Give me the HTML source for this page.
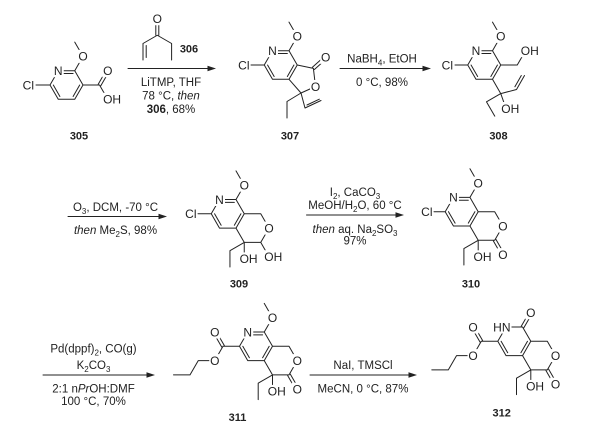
<!DOCTYPE html>
<html>
<head>
<meta charset="utf-8">
<style>
html,body{margin:0;padding:0;background:#fff;}
svg{display:block;}
.a{font-family:"Liberation Sans",Arial,sans-serif;font-size:12px;fill:#222;text-anchor:middle;}
.as{font-family:"Liberation Sans",Arial,sans-serif;font-size:12px;fill:#222;text-anchor:start;}
.ae{font-family:"Liberation Sans",Arial,sans-serif;font-size:12px;fill:#222;text-anchor:end;}
.r{font-family:"Liberation Sans",Arial,sans-serif;font-size:11.5px;fill:#222;text-anchor:middle;}
.n{font-family:"Liberation Sans",Arial,sans-serif;font-size:11px;font-weight:bold;fill:#222;text-anchor:middle;}
.bd{stroke:#222;stroke-width:1;fill:none;stroke-linecap:round;stroke-linejoin:round;}
.m{fill:#fff;}
</style>
</head>
<body>
<svg width="600" height="434" viewBox="0 0 600 434" xmlns="http://www.w3.org/2000/svg">

<!-- ===== 305 ===== -->
<path class="bd" d="M50 85 L58.25 70.7 L74.75 70.7 L83 85 L74.75 99.3 L58.25 99.3 Z
M59.9 73.56 L73.1 73.56 M79.7 85 L73.1 96.44 M59.9 96.44 L53.3 85
M36 85 L50 85
M74.75 70.7 L83 56.4 L74.75 42.1
M83 85 L99.5 85 L107.75 99.3
M100.8 85.75 L109.05 71.45 M98.2 84.25 L106.45 69.95"/>
<rect class="m" x="52.75" y="64.2" width="11" height="13"/>
<rect class="m" x="77.5" y="49.9" width="11" height="13"/>
<rect class="m" x="102.25" y="64.2" width="11" height="13"/>
<rect class="m" x="102.25" y="92.8" width="20" height="13"/>
<text class="a" x="58.25" y="75">N</text>
<text class="a" x="83" y="60.7">O</text>
<text class="a" x="107.75" y="75">O</text>
<text class="as" x="103.1" y="103.6">OH</text>
<text class="ae" x="34" y="89.3">Cl</text>
<text class="n" x="79" y="139.5">305</text>

<!-- ===== 306 ===== -->
<path class="bd" d="M143 60 L143 43.5 L157.3 35.25 L171.6 43.5 L171.6 60
M146.2 57.5 L146.2 45.5
M155.8 35.25 L155.8 18.75 M158.8 35.25 L158.8 18.75"/>
<rect class="m" x="151.8" y="12.25" width="11" height="13"/>
<text class="a" x="157.3" y="23">O</text>
<text class="n" x="189" y="52.5">306</text>

<!-- arrow 1 -->
<path class="bd" d="M128 68.5 L209 68.5"/>
<polygon points="216,68.5 207.5,65.7 207.5,71.3" fill="#222"/>
<text class="r" x="171" y="86">LiTMP, THF</text>
<text class="r" x="171" y="99.5">78 °C, <tspan font-style="italic">then</tspan></text>
<text class="r" x="171" y="113"><tspan font-weight="bold">306</tspan>, 68%</text>

<!-- ===== 307 ===== -->
<path class="bd" d="M264.25 65 L272.5 50.7 L289 50.7 L297.25 65 L289 79.3 L272.5 79.3 Z
M274.15 53.56 L287.35 53.56 M293.95 65 L287.35 76.44 M274.15 76.44 L267.55 65
M251 65 L264.25 65
M289 50.7 L297.25 36.4 L289 22.1
M297.25 65 L313.4 68.4 L315.5 86.5 L301 93 L289 79.3
M314.4 69.5 L326.7 58.5 M312.4 67.3 L324.7 56.3
M301 93 L287 101.5 L287 118
M301 93 L305 108 L321 100.5 M307 105 L319.3 99.2"/>
<rect class="m" x="267" y="44.2" width="11" height="13"/>
<rect class="m" x="291.75" y="29.9" width="11" height="13"/>
<rect class="m" x="320.2" y="50.9" width="11" height="13"/>
<rect class="m" x="310" y="80" width="11" height="13"/>
<text class="a" x="272.5" y="55">N</text>
<text class="a" x="297.25" y="40.7">O</text>
<text class="a" x="325.7" y="61.7">O</text>
<text class="a" x="315.5" y="90.8">O</text>
<text class="ae" x="249.5" y="69.3">Cl</text>
<text class="n" x="290" y="139.5">307</text>

<!-- arrow 2 -->
<path class="bd" d="M340 68.5 L424 68.5"/>
<polygon points="431,68.5 422.5,65.7 422.5,71.3" fill="#222"/>
<text class="r" x="382" y="62.4">NaBH<tspan font-size="8" dy="3">4</tspan><tspan dy="-3">, EtOH</tspan></text>
<text class="r" x="382" y="85.8">0 °C, 98%</text>

<!-- ===== 308 ===== -->
<path class="bd" d="M467.75 65 L476 50.7 L492.5 50.7 L500.75 65 L492.5 79.3 L476 79.3 Z
M477.65 53.56 L490.85 53.56 M497.45 65 L490.85 76.44 M477.65 76.44 L471.05 65
M455 65 L467.75 65
M492.5 50.7 L500.75 36.4 L492.5 22.1
M500.75 65 L517.25 65 L525.5 50.7
M492.5 79.3 L500.75 93.6
M500.75 93.6 L516.5 89.5 L524.5 75.5 M514.9 86.7 L521.3 75.5
M500.75 93.6 L486.5 101.85 L494.75 116.15
M500.75 93.6 L506 108.5"/>
<rect class="m" x="470.5" y="44.2" width="11" height="13"/>
<rect class="m" x="495.25" y="29.9" width="11" height="13"/>
<rect class="m" x="520" y="44.2" width="20" height="13"/>
<rect class="m" x="500.5" y="102" width="20" height="13"/>
<text class="a" x="476" y="55">N</text>
<text class="a" x="500.75" y="40.7">O</text>
<text class="as" x="520.8" y="55">OH</text>
<text class="as" x="501.3" y="112.8">OH</text>
<text class="ae" x="453" y="69.3">Cl</text>
<text class="n" x="498.5" y="139.5">308</text>

<!-- arrow 3 -->
<path class="bd" d="M68 216.5 L160 216.5"/>
<polygon points="167,216.5 158.5,213.7 158.5,219.3" fill="#222"/>
<text class="r" x="115.5" y="211">O<tspan font-size="8" dy="3">3</tspan><tspan dy="-3">, DCM, -70 °C</tspan></text>
<text class="r" x="115.5" y="234"><tspan font-style="italic">then</tspan> Me<tspan font-size="8" dy="3">2</tspan><tspan dy="-3">S, 98%</tspan></text>

<!-- ===== 309 ===== -->
<path class="bd" d="M211.25 213.8 L219.5 199.5 L236 199.5 L244.25 213.8 L236 228.1 L219.5 228.1 Z
M221.15 202.36 L234.35 202.36 M240.95 213.8 L234.35 225.24 M221.15 225.24 L214.55 213.8
M198 213.8 L211.25 213.8
M236 199.5 L244.25 185.2 L236 170.9
M244.25 213.8 L260.75 213.8 L269 228.1 L260.75 242.4 L244.25 242.4 L236 228.1
M244.25 242.4 L244.25 258.9
M244.25 242.4 L229.95 250.65 L229.95 267
M260.75 242.4 L269 256.7"/>
<rect class="m" x="214" y="193" width="11" height="13"/>
<rect class="m" x="238.75" y="178.7" width="11" height="13"/>
<rect class="m" x="263.5" y="221.6" width="11" height="13"/>
<rect class="m" x="238.75" y="252.4" width="20" height="13"/>
<rect class="m" x="263.5" y="250.2" width="20" height="13"/>
<text class="a" x="219.5" y="203.8">N</text>
<text class="a" x="244.25" y="189.5">O</text>
<text class="a" x="269" y="232.4">O</text>
<text class="as" x="239.6" y="263.2">OH</text>
<text class="as" x="264.3" y="261">OH</text>
<text class="ae" x="196.5" y="218.1">Cl</text>
<text class="n" x="239" y="287.5">309</text>

<!-- arrow 4 -->
<path class="bd" d="M306.5 215 L397 215"/>
<polygon points="404,215 395.5,212.2 395.5,217.8" fill="#222"/>
<text class="r" x="355" y="195.8">I<tspan font-size="8" dy="3">2</tspan><tspan dy="-3">, CaCO</tspan><tspan font-size="8" dy="3">3</tspan></text>
<text class="r" x="355" y="209">MeOH/H<tspan font-size="8" dy="3">2</tspan><tspan dy="-3">O, 60 °C</tspan></text>
<text class="r" x="355" y="233"><tspan font-style="italic">then</tspan> aq. Na<tspan font-size="8" dy="3">2</tspan><tspan dy="-3">SO</tspan><tspan font-size="8" dy="3">3</tspan></text>
<text class="r" x="355" y="244.5">97%</text>

<!-- ===== 310 ===== -->
<path class="bd" d="M445.2 211.7 L453.45 197.4 L469.95 197.4 L478.2 211.7 L469.95 226 L453.45 226 Z
M455.1 200.26 L468.3 200.26 M474.9 211.7 L468.3 223.14 M455.1 223.14 L448.5 211.7
M434 211.7 L445.2 211.7
M469.95 197.4 L478.2 183.1 L469.95 168.8
M478.2 211.7 L494.7 211.7 L502.95 226 L494.7 240.3 L478.2 240.3 L469.95 226
M496 239.55 L504.25 253.85 M493.4 241.05 L501.65 255.35
M478.2 240.3 L478.2 256.8
M478.2 240.3 L463.9 248.55 L463.9 265"/>
<rect class="m" x="447.95" y="190.9" width="11" height="13"/>
<rect class="m" x="472.7" y="176.6" width="11" height="13"/>
<rect class="m" x="497.45" y="219.5" width="11" height="13"/>
<rect class="m" x="497.45" y="248.1" width="11" height="13"/>
<rect class="m" x="472.7" y="250.3" width="20" height="13"/>
<text class="a" x="453.45" y="201.7">N</text>
<text class="a" x="478.2" y="187.4">O</text>
<text class="a" x="502.95" y="230.3">O</text>
<text class="a" x="502.95" y="258.9">O</text>
<text class="as" x="473.5" y="261.1">OH</text>
<text class="ae" x="432.5" y="216">Cl</text>
<text class="n" x="471" y="287.5">310</text>

<!-- arrow 5 -->
<path class="bd" d="M43 375 L148 375"/>
<polygon points="155,375 146.5,372.2 146.5,377.8" fill="#222"/>
<text class="r" x="93.5" y="352.4">Pd(dppf)<tspan font-size="8" dy="3">2</tspan><tspan dy="-3">, CO(g)</tspan></text>
<text class="r" x="93.5" y="369">K<tspan font-size="8" dy="3">2</tspan><tspan dy="-3">CO</tspan><tspan font-size="8" dy="3">3</tspan></text>
<text class="r" x="93.5" y="392.4">2:1 n<tspan font-style="italic">Pr</tspan>OH:DMF</text>
<text class="r" x="93.5" y="405">100 °C, 70%</text>

<!-- ===== 311 ===== -->
<path class="bd" d="M239.5 346.3 L247.75 332 L264.25 332 L272.5 346.3 L264.25 360.6 L247.75 360.6 Z
M249.4 334.86 L262.6 334.86 M269.2 346.3 L262.6 357.74 M249.4 357.74 L242.8 346.3
M264.25 332 L272.5 317.7 L264.25 303.4
M272.5 346.3 L289 346.3 L297.25 360.6 L289 374.9 L272.5 374.9 L264.25 360.6
M290.3 374.15 L298.55 388.45 M287.7 375.65 L295.95 389.95
M272.5 374.9 L272.5 391.4
M272.5 374.9 L258.2 383.15 L258.2 399.6
M239.5 346.3 L223 346.3
M224.3 345.55 L216.05 331.25 M221.7 347.05 L213.45 332.75
M223 346.3 L214.75 360.6 L198.25 360.6 L190 374.9 L173.5 374.9"/>
<rect class="m" x="242.25" y="325.5" width="11" height="13"/>
<rect class="m" x="267" y="311.2" width="11" height="13"/>
<rect class="m" x="291.75" y="354.1" width="11" height="13"/>
<rect class="m" x="291.75" y="382.7" width="11" height="13"/>
<rect class="m" x="267" y="384.9" width="20" height="13"/>
<rect class="m" x="209.25" y="325.5" width="11" height="13"/>
<rect class="m" x="209.25" y="354.1" width="11" height="13"/>
<text class="a" x="247.75" y="336.3">N</text>
<text class="a" x="272.5" y="322">O</text>
<text class="a" x="297.25" y="364.9">O</text>
<text class="a" x="297.25" y="393.5">O</text>
<text class="as" x="267.8" y="395.7">OH</text>
<text class="a" x="214.75" y="336.3">O</text>
<text class="a" x="214.75" y="364.9">O</text>
<text class="n" x="237.5" y="421">311</text>

<!-- arrow 6 -->
<path class="bd" d="M310 375 L410 375"/>
<polygon points="417,375 408.5,372.2 408.5,377.8" fill="#222"/>
<text class="r" x="363" y="369">NaI, TMSCl</text>
<text class="r" x="363" y="392.4">MeCN, 0 °C, 87%</text>

<!-- ===== 312 ===== -->
<path class="bd" d="M497.8 341.3 L506.05 327 L522.55 327 L530.8 341.3 L522.55 355.6 L506.05 355.6 Z
M527.5 341.3 L520.9 352.74 M507.7 352.74 L501.1 341.3
M523.85 327.75 L532.1 313.45 M521.25 326.25 L529.5 311.95
M530.8 341.3 L547.3 341.3 L555.55 355.6 L547.3 369.9 L530.8 369.9 L522.55 355.6
M548.6 369.15 L556.85 383.45 M546 370.65 L554.25 384.95
M530.8 369.9 L530.8 386.4
M530.8 369.9 L516.5 378.15 L516.5 394.6
M497.8 341.3 L481.3 341.3
M482.6 340.55 L474.35 326.25 M480 342.05 L471.75 327.75
M481.3 341.3 L473.05 355.6 L456.55 355.6 L448.3 369.9 L431.8 369.9"/>
<rect class="m" x="491.5" y="320.5" width="20" height="13"/>
<rect class="m" x="525.3" y="306.2" width="11" height="13"/>
<rect class="m" x="550.05" y="349.1" width="11" height="13"/>
<rect class="m" x="550.05" y="377.7" width="11" height="13"/>
<rect class="m" x="525.3" y="379.9" width="20" height="13"/>
<rect class="m" x="467.55" y="320.5" width="11" height="13"/>
<rect class="m" x="467.55" y="349.1" width="11" height="13"/>
<text class="ae" x="510.5" y="331.3">HN</text>
<text class="a" x="530.8" y="317">O</text>
<text class="a" x="555.55" y="359.9">O</text>
<text class="a" x="555.55" y="388.5">O</text>
<text class="as" x="526.1" y="390.7">OH</text>
<text class="a" x="473.05" y="331.3">O</text>
<text class="a" x="473.05" y="359.9">O</text>
<text class="n" x="501.7" y="416.5">312</text>

</svg>
</body>
</html>
